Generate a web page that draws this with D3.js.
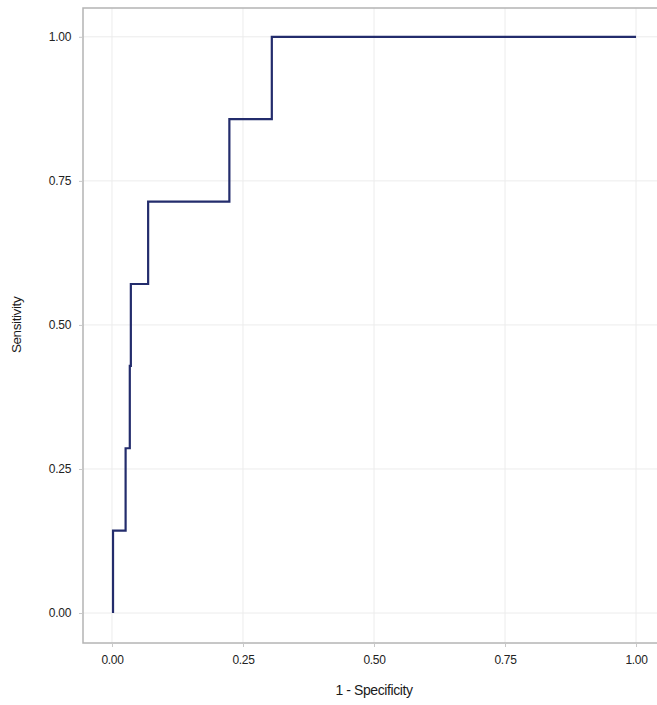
<!DOCTYPE html>
<html>
<head>
<meta charset="utf-8">
<script src="https://cdn.jsdelivr.net/npm/d3@7"></script>
<style>
  html, body { margin: 0; padding: 0; background: #fff; }
  svg { display: block; }
</style>
</head>
<body>
<svg id="chart" width="657" height="705"></svg>
<script>
// ROC curve data (1 - Specificity, Sensitivity)
const fpr = [0.002, 0.002, 0.026, 0.026, 0.034, 0.034, 0.036, 0.036, 0.069, 0.069, 0.224, 0.224, 0.305, 0.305, 1.0];
const sens = [0.0, 0.143, 0.143, 0.286, 0.286, 0.429, 0.429, 0.571, 0.571, 0.714, 0.714, 0.857, 0.857, 1.0, 1.0];
const xTicks = [0, 0.25, 0.5, 0.75, 1.0];
const yTicks = [0, 0.25, 0.5, 0.75, 1.0];
const xTitle = "1 - Specificity";
const yTitle = "Sensitivity";

const svg = d3.select("#chart");
const frame = { left: 83, right: 657, top: 8, bottom: 643 };

const x = d3.scaleLinear().domain([-0.0553, 1.040]).range([frame.left, frame.right]);
const y = d3.scaleLinear().domain([-0.052, 1.050]).range([frame.bottom, frame.top]);

// gridlines
svg.append("g").selectAll("line.vg").data(xTicks).join("line")
  .attr("x1", d => x(d)).attr("x2", d => x(d))
  .attr("y1", frame.top).attr("y2", frame.bottom)
  .attr("stroke", "#ececec").attr("stroke-width", 1);
svg.append("g").selectAll("line.hg").data(yTicks).join("line")
  .attr("x1", frame.left).attr("x2", frame.right)
  .attr("y1", d => y(d)).attr("y2", d => y(d))
  .attr("stroke", "#ececec").attr("stroke-width", 1);

// frame
svg.append("rect")
  .attr("x", frame.left).attr("y", frame.top)
  .attr("width", frame.right - frame.left + 4).attr("height", frame.bottom - frame.top)
  .attr("fill", "none").attr("stroke", "#b4b4b4").attr("stroke-width", 1.5);

// axes
const fmt = d3.format(".2f");
const xAxis = svg.append("g").attr("transform", `translate(0,${frame.bottom})`)
  .call(d3.axisBottom(x).tickValues(xTicks).tickFormat(fmt).tickSize(4).tickPadding(8));
const yAxis = svg.append("g").attr("transform", `translate(${frame.left},0)`)
  .call(d3.axisLeft(y).tickValues(yTicks).tickFormat(fmt).tickSize(4).tickPadding(8));
[xAxis, yAxis].forEach(a => {
  a.select(".domain").remove();
  a.selectAll(".tick line").attr("stroke", "#c8c8c8");
  a.selectAll(".tick text")
    .attr("fill", "#222")
    .style("font-family", "'Liberation Sans', Arial, sans-serif")
    .style("font-size", "12px")
    .style("letter-spacing", "-0.3px");
});

// axis titles
svg.append("text")
  .attr("x", x(0.5)).attr("y", 695)
  .attr("text-anchor", "middle")
  .attr("fill", "#1a1a1a")
  .style("font-family", "'Liberation Sans', Arial, sans-serif")
  .style("font-size", "14px")
  .style("letter-spacing", "-0.4px")
  .text(xTitle);
svg.append("text")
  .attr("transform", `translate(21,${y(0.5)}) rotate(-90)`)
  .attr("text-anchor", "middle")
  .attr("fill", "#1a1a1a")
  .style("font-family", "'Liberation Sans', Arial, sans-serif")
  .style("font-size", "13.5px")
  .style("letter-spacing", "-0.4px")
  .text(yTitle);

// ROC curve
const pts = fpr.map((v, i) => [v, sens[i]]);
const line = d3.line().x(d => x(d[0])).y(d => y(d[1]));
svg.append("path")
  .datum(pts)
  .attr("d", line)
  .attr("fill", "none")
  .attr("stroke", "#232c6c")
  .attr("stroke-width", 2.2)
  .attr("stroke-linejoin", "miter");
</script>
</body>
</html>
